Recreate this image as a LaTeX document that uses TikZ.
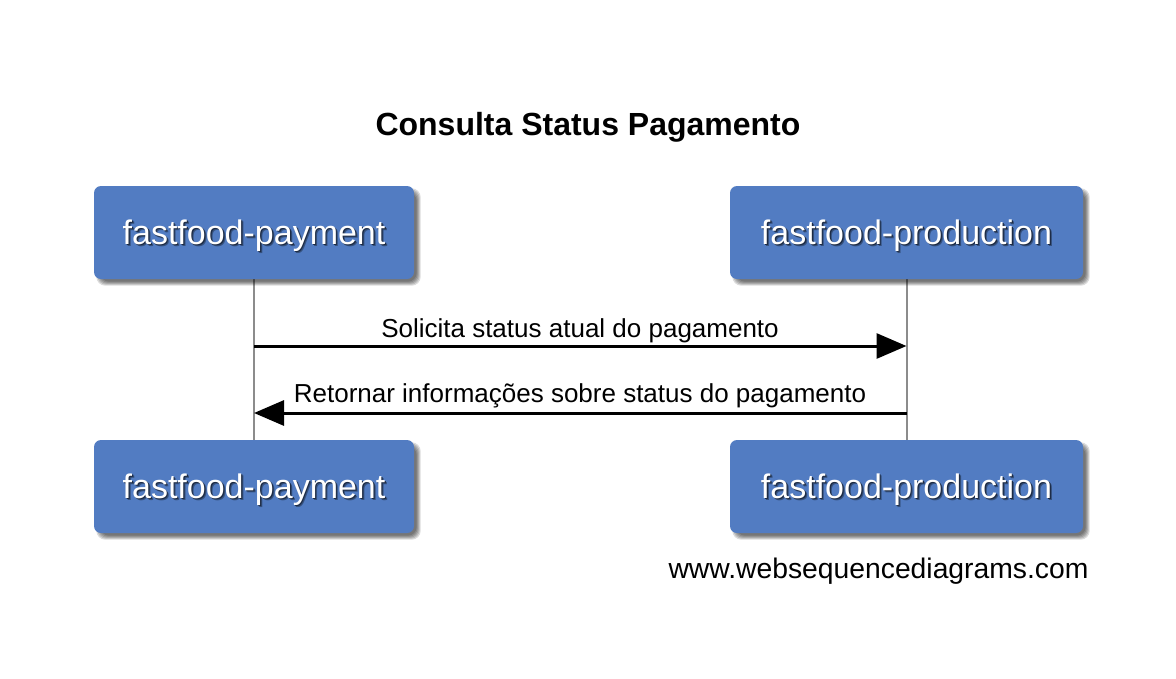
\documentclass[tikz,border=0pt]{standalone}
\usepackage{fontspec}
\setmainfont{Liberation Sans}
\usetikzlibrary{arrows.meta,calc}
\definecolor{boxblue}{RGB}{82,124,194}
\definecolor{lifegray}{RGB}{140,140,140}
\newcommand\shtext[1]{\rlap{\kern2.2pt\raisebox{-2.2pt}{\textcolor{boxblue!65!black}{#1}}}\rlap{\kern1.2pt\raisebox{-1.2pt}{\textcolor{boxblue!35!black}{#1}}}#1}
\newcommand\boxshadow[1]{%
  \foreach \d in {-2,0,2,4,6}{%
    \fill[black, opacity=0.14, rounded corners=9pt]
      ($(#1.north west)+(3.5-\d/2+2,3.5-\d/2+2)$) rectangle ($(#1.south east)+(3.5+\d/2,3.5+\d/2)$);
  }}
\begin{document}
\begin{tikzpicture}[x=1pt,y=-1pt,
  actorbox/.style={rectangle, rounded corners=7pt, fill=boxblue, draw=none,
    minimum height=93pt, inner sep=0pt},
  actortext/.style={anchor=base, inner sep=0pt, text=white, font=\fontsize{34}{40}\selectfont},
  lifeline/.style={draw=lifegray, line width=2pt},
  msg/.style={draw=black, line width=3pt, -{Triangle[length=30pt,width=25pt]}},
  msgtext/.style={anchor=base, inner sep=0pt, font=\fontsize{26}{30}\selectfont},
]
\useasboundingbox (0,0) rectangle (1176,678);
\fill[white] (0,0) rectangle (1176,678);

\node[anchor=base, inner sep=0pt, font=\fontsize{32}{38}\selectfont\bfseries] (title) at (588,135) {Consulta Status Pagamento};

% lifelines first (behind boxes)
\coordinate (l1t) at (254,279);
\coordinate (l1b) at (254,440);
\coordinate (l2t) at (906.5,279);
\coordinate (l2b) at (906.5,440);
\draw[lifeline] (l1t) -- (l1b);
\draw[lifeline] (l2t) -- (l2b);

% invisible placement nodes for shadows
\path node[actorbox, fill=none, minimum width=320pt] (pay1) at (254,232.5) {}
      node[actorbox, fill=none, minimum width=353pt] (prod1) at (906.5,232.5) {}
      node[actorbox, fill=none, minimum width=320pt] (pay2) at (254,486.5) {}
      node[actorbox, fill=none, minimum width=353pt] (prod2) at (906.5,486.5) {};
\boxshadow{pay1}
\boxshadow{prod1}
\boxshadow{pay2}
\boxshadow{prod2}
\node[actorbox, minimum width=320pt] (pay1b) at (pay1) {};
\node[actorbox, minimum width=353pt] (prod1b) at (prod1) {};
\node[actorbox, minimum width=320pt] (pay2b) at (pay2) {};
\node[actorbox, minimum width=353pt] (prod2b) at (prod2) {};

\node[actortext] (pay1t) at ($(pay1.center)+(0,11.5)$) {\shtext{fastfood-payment}};
\node[actortext] (prod1t) at ($(prod1.center)+(0,11.5)$) {\shtext{fastfood-production}};
\node[actortext] (pay2t) at ($(pay2.center)+(0,11.5)$) {\shtext{fastfood-payment}};
\node[actortext] (prod2t) at ($(prod2.center)+(0,11.5)$) {\shtext{fastfood-production}};

\coordinate (m1s) at (pay1.south |- 0,346);
\coordinate (m1e) at (prod1.south |- 0,346);
\coordinate (m2s) at (prod1.south |- 0,413);
\coordinate (m2e) at (pay1.south |- 0,413);
\draw[msg] (m1s) -- (m1e);
\draw[msg] (m2s) -- (m2e);

\node[msgtext] (m1t) at (580,337) {Solicita status atual do pagamento};
\node[msgtext] (m2t) at (580,402) {Retornar informações sobre status do pagamento};

\node[anchor=base, inner sep=0pt, font=\fontsize{28.3}{33}\selectfont] (footer) at (878.5,578) {www.websequencediagrams.com};
\end{tikzpicture}
\end{document}
